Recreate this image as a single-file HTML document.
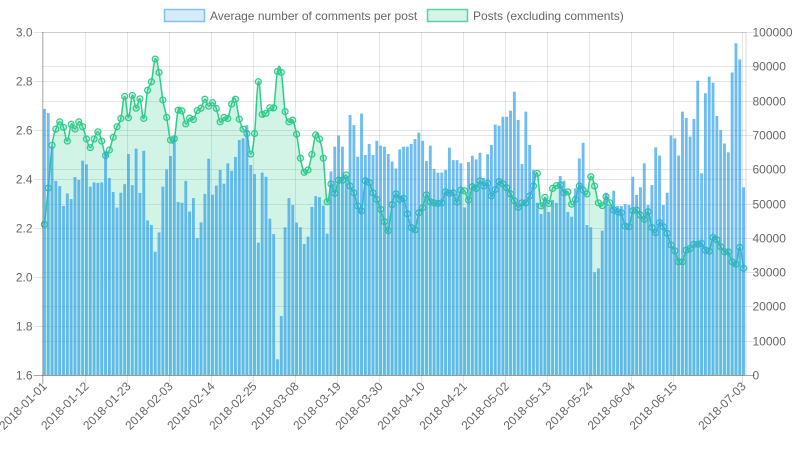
<!DOCTYPE html>
<html><head><meta charset="utf-8"><style>
html,body{margin:0;padding:0;background:#fff;}
svg{display:block;font-family:"Liberation Sans",sans-serif;}
</style></head><body>
<svg id="chart" width="798" height="450" viewBox="0 0 798 450">
<g id="legend">
<g>
<rect x="164.5" y="9.5" width="40" height="12" fill="rgba(54,162,235,0.2)" stroke="rgba(54,162,235,0.6)" stroke-width="1.5"/>
<text x="210" y="20" font-size="12" fill="#666">Average number of comments per post</text></g>
<g>
<rect x="427.5" y="9.5" width="40" height="12" fill="rgba(46,204,140,0.2)" stroke="rgba(46,204,140,0.8)" stroke-width="1.5"/>
<text x="473" y="20" font-size="12" fill="#666">Posts (excluding comments)</text></g>
</g>
<g id="grid"></g>
<g id="fill"></g>
<g id="bars"></g>
<g id="axes"></g>
</svg>
<script>
const leftTicks=[1.6,1.8,2.0,2.2,2.4,2.6,2.8,3.0];
const rightTicks=[0,10000,20000,30000,40000,50000,60000,70000,80000,90000,100000];
const avgComments=[2.686,2.669,2.532,2.392,2.371,2.290,2.341,2.318,2.408,2.396,2.475,2.460,2.369,2.386,2.384,2.386,2.515,2.404,2.347,2.283,2.344,2.379,2.502,2.375,2.524,2.343,2.515,2.231,2.212,2.103,2.182,
2.369,2.439,2.494,2.573,2.306,2.303,2.392,2.267,2.322,2.159,2.223,2.339,2.483,2.336,2.373,2.437,2.381,2.464,2.433,2.490,2.559,2.566,2.620,2.457,2.420,2.140,2.426,2.409,2.238,2.175,
1.664,1.841,2.203,2.322,2.294,2.222,2.203,2.135,2.165,2.286,2.330,2.326,2.291,2.177,2.431,2.532,2.577,2.532,2.409,2.661,2.620,2.491,2.667,2.498,2.543,2.498,2.556,2.536,2.532,2.502,
2.471,2.443,2.521,2.532,2.532,2.543,2.563,2.589,2.556,2.473,2.536,2.441,2.426,2.426,2.437,2.528,2.477,2.477,2.464,2.284,2.469,2.495,2.480,2.507,2.404,2.501,2.539,2.622,2.618,2.654,
2.654,2.679,2.756,2.641,2.461,2.675,2.539,2.437,2.303,2.257,2.321,2.265,2.314,2.303,2.412,2.393,2.265,2.246,2.362,2.484,2.548,2.212,2.203,2.019,2.035,2.189,2.344,2.287,2.352,2.290,
2.290,2.298,2.294,2.409,2.335,2.366,2.464,2.294,2.375,2.529,2.496,2.294,2.344,2.578,2.566,2.496,2.675,2.649,2.573,2.645,2.801,2.423,2.750,2.818,2.793,2.657,2.600,2.545,2.509,2.835,2.954,2.888,2.366];
const posts=[43900,54500,67000,71700,73800,72200,68200,73100,71700,73800,72400,68800,66300,68800,70900,68200,64000,65600,69300,72400,74800,81200,75000,81500,77800,80500,74800,83000,85500,92100,88200,
80200,75100,68500,68900,77200,77000,73200,74900,74500,77100,77800,80400,78400,79400,77700,73800,75100,74800,79000,80400,74600,71700,70400,64400,70400,85500,76000,76300,77900,77900,
88500,88200,76800,73800,74300,70200,63200,59100,59800,64300,70000,68800,63200,50500,55700,53000,56800,56800,58300,55100,53100,49300,47800,56600,56100,53100,51200,48300,44700,42100,
49700,52800,51200,51500,47000,43000,42300,47300,48800,52500,50500,50200,50000,50200,53400,53000,53100,50400,53900,53700,51000,54900,54400,56600,55100,55900,52200,54100,56400,55700,
54600,52800,50800,48900,50200,50200,52200,55100,58800,49300,51800,50000,54400,55200,55400,53100,53400,49800,51200,55100,53900,52800,57800,55100,50200,49400,52000,50200,48100,47600,
47300,43400,43200,47900,48100,46600,45400,47600,43000,41500,44400,43200,41300,37900,36200,33000,33000,36400,36900,38100,38100,38400,36400,36100,40100,39400,37400,35900,35900,33000,32300,37200,31100];
const startDate='2018-01-01';
const labelStep=11;

const NS='http://www.w3.org/2000/svg';
const X0=42.5,X1=745.5,Y0=32,Y1=375;
const N=avgComments.length;
const slot=(X1-X0)/N;
const xC=i=>X0+slot*(i+0.5);
const yL=v=>Y1-(v-1.6)/(3.0-1.6)*(Y1-Y0);
const yR=v=>Y1-v/100000*(Y1-Y0);
function mk(tag,attrs,parent){const e=document.createElementNS(NS,tag);for(const k in attrs)e.setAttribute(k,attrs[k]);parent.appendChild(e);return e;}
function dateLabel(i){const d=new Date(Date.UTC(2018,0,1)+i*86400000);return d.toISOString().slice(0,10);}
const grid=document.getElementById('grid'),axes=document.getElementById('axes'),bars=document.getElementById('bars'),fillG=document.getElementById('fill');
leftTicks.forEach(t=>{const y=Math.round(yL(t))+0.5;
 const l=mk('line',{x1:X0-9,x2:X1,y1:y,y2:y,stroke:'rgba(0,0,0,0.1)'},grid);
 
 
 const tx=mk('text',{x:X0-10,y:y+4,'text-anchor':'end','font-size':12,fill:'#666'},axes);tx.textContent=t.toFixed(1);
 
 
});
rightTicks.forEach(t=>{const y=Math.round(yR(t))+0.5;
 const l=mk('line',{x1:X0,x2:X1+9,y1:y,y2:y,stroke:'rgba(0,0,0,0.1)'},grid);
 
 
 const tx=mk('text',{x:X1+7,y:y+4,'text-anchor':'start','font-size':12,fill:'#666'},axes);tx.textContent=String(t);
 
 
});
const shown=[];for(let i=0;i<N;i+=labelStep){if(N-1-i>=labelStep)shown.push(i);}shown.push(N-1);
shown.forEach(i=>{const x=Math.round(X0+slot*i)+0.5;
 const l=mk('line',{x1:x,x2:x,y1:Y0,y2:Y1+9,stroke:'rgba(0,0,0,0.1)'},grid);
 
 });
mk('line',{x1:X1+0.5,x2:X1+0.5,y1:Y0,y2:Y1,stroke:'rgba(0,0,0,0.15)'},grid);
shown.forEach(i=>{const x=xC(i)+3,y=Y1+12;
 const tx=mk('text',{x:x,y:y,'text-anchor':'end','font-size':12,fill:'#666',transform:`rotate(-45 ${x} ${y})`},axes);tx.textContent=dateLabel(i);
 
 
});
const pts=posts.map((v,i)=>[xC(i),yR(v)]);
function curve(p){let d=`M${p[0][0]},${p[0][1]}`;const t=0.2;
 for(let i=0;i<p.length-1;i++){const a=p[i-1]||p[i],b=p[i],c=p[i+1],e=p[i+2]||c;
  d+=` C${b[0]+(c[0]-a[0])*t},${b[1]+(c[1]-a[1])*t} ${c[0]-(e[0]-b[0])*t},${c[1]-(e[1]-b[1])*t} ${c[0]},${c[1]}`;}return d;}
const lineD=curve(pts);
const area=mk('path',{d:lineD+` L${pts[N-1][0]},${Y1} L${pts[0][0]},${Y1} Z`,fill:'rgba(46,204,140,0.22)',stroke:'none'},fillG);


const ln=mk('path',{d:lineD,fill:'none',stroke:'#2ecc8a','stroke-width':1.5},fillG);


pts.forEach(p=>{const c=mk('circle',{cx:p[0],cy:p[1],r:3,fill:'rgba(46,204,140,0.2)',stroke:'#2ecc8a','stroke-width':1.2},fillG);
 
 });
const bw=slot*0.75;
avgComments.forEach((v,i)=>{const y=yL(v);
 const r=mk('rect',{x:xC(i)-bw/2,y:y,width:bw,height:Y1-y,fill:'rgba(54,162,235,0.72)'},bars);
 
 });
mk('line',{x1:X0,x2:X0,y1:Y0,y2:Y1+9,stroke:'rgba(0,0,0,0.25)'},axes);
mk('line',{x1:X0-9,x2:X1+9,y1:Y1+0.5,y2:Y1+0.5,stroke:'rgba(0,0,0,0.25)'},axes);
</script>
</body></html>
